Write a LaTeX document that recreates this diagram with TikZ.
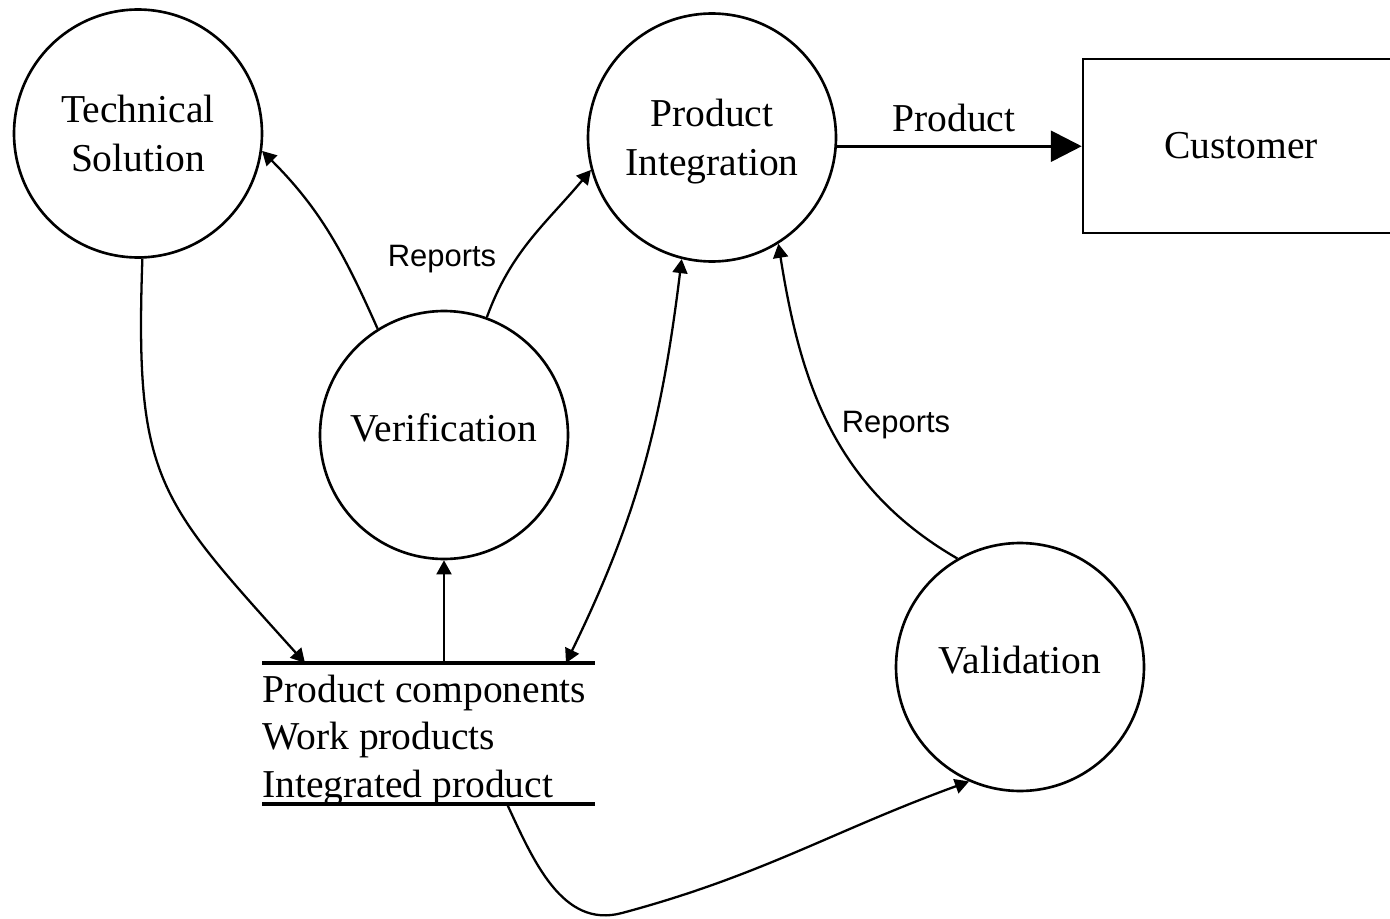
\documentclass[tikz,border=0pt]{standalone}
\usepackage{fontspec}
\setmainfont{Liberation Serif}
\newfontfamily\repfont{Liberation Sans}
\usetikzlibrary{arrows.meta}
\def\rad{4.96cm}
\tikzstyle{process}=[draw,circle,line width=1.5pt,minimum size=\rad,inner sep=0pt,align=center]
\tikzstyle{flow}=[->,line width=1.3pt]
\tikzstyle{storeline}=[line width=2.2pt]
\tikzstyle{storetext}=[anchor=base west,inner sep=0pt]
\tikzstyle{replabel}=[font=\repfont\fontsize{17.6}{20}\selectfont]
\newcommand{\newProcess}[4]{\node[process,#4](#1) at (#3) {#2};}
\newcommand{\newFlow}[3]{\draw[flow,#3] (#1) to (#2);}

\begin{document}
\begin{tikzpicture}[x=0.02cm,y=0.02cm,
  >={Triangle[length=8pt,width=8.5pt]},
  font=\fontsize{22.5}{28}\selectfont
  ]
  \useasboundingbox (0,0) rectangle (1390,-919);
  \newProcess{ts}{Technical\\Solution}{138,-133.5}{}
  \newProcess{pi}{Product\\Integration}{712,-137.5}{text depth=0pt}
  \newProcess{ver}{Verification}{444,-435}{text depth=9pt}
  \newProcess{val}{Validation}{1020,-667}{text depth=8pt}
  \node[draw,line width=1.5pt,minimum width=6.32cm,minimum height=3.48cm](cust) at (1241,-146) {Customer};
  % data store
  \coordinate (storeA) at (305,-663);
  \coordinate (storeV) at (444,-663);
  \coordinate (storeC) at (566,-663);
  \coordinate (storeD) at (507,-804);
  \coordinate (bend) at (622,-913);
  \draw[storeline] (262,-663) -- (595,-663);
  \draw[storeline] (262,-804) -- (595,-804);
  \node[storetext](st1) at (262,-702) {Product components};
  \node[storetext](st2) at (262,-749) {Work products};
  \node[storetext](st3) at (262,-797) {Integrated product};
  \node[replabel](rep1) at (442,-259) {Reports};
  \node[replabel](rep2) at (896,-425) {Reports};
  \node(prod) at (954,-118) {Product};
  \draw[line width=1.6pt,-{Triangle[length=17.5pt,width=17.5pt]}] (pi.-4) -- (pi.-4 -| cust.west);
  \newFlow{ver.122}{ts.-8}{out=114,in=-45}
  \newFlow{ver.70}{pi.195}{out=70,in=230}
  \newFlow{ts.-88}{storeA}{out=-92,in=132,looseness=1.3}
  \newFlow{storeV}{ver.south}{}
  \newFlow{storeC}{pi.-104}{<->,out=64,in=-97}
  \newFlow{val.120}{pi.-58}{out=150,in=-81}
  \draw[flow] (storeD) to[out=-65,in=195] (bend) to[out=15,in=200] (val.-114);
\end{tikzpicture}
\end{document}
